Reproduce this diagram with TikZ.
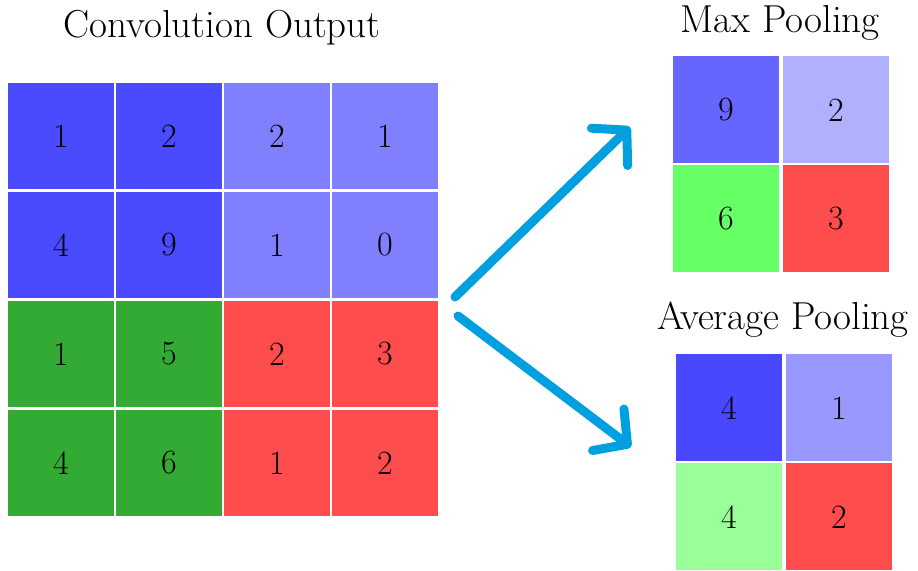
\documentclass[tikz,border=0pt]{standalone}
\usetikzlibrary{arrows.meta}
% cell fills
\definecolor{cdeep}{HTML}{4A4AFF}
\definecolor{clight}{HTML}{8080FF}
\definecolor{cgreen}{HTML}{33AA33}
\definecolor{cred}{HTML}{FF4C4C}
\definecolor{mblue}{HTML}{6666FF}
\definecolor{mlight}{HTML}{B0B0FF}
\definecolor{mgreen}{HTML}{66FF66}
\definecolor{ablue}{HTML}{4848FF}
\definecolor{alight}{HTML}{9898FF}
\definecolor{agreen}{HTML}{99FF99}
\definecolor{arrowc}{HTML}{00A0E0}

\begin{document}
\begin{tikzpicture}[x=0.5pt,y=-0.5pt,
  cell/.style={minimum width=52.75pt, minimum height=53pt, inner sep=0pt,
    font=\fontsize{17}{20}\selectfont},
  small/.style={cell, minimum width=53pt, minimum height=53.5pt},
  title/.style={font=\fontsize{19.5}{23}\selectfont, inner sep=0pt},
  flow/.style={draw=arrowc, line width=4.5pt, line cap=round, line join=round,
    -{Straight Barb[length=12pt, width=26pt, round]}}]
\useasboundingbox (0,0) rectangle (918,571);

% titles
\node[title] (tconv) at (222,28) {Convolution Output};
\node[title] (tmax) at (780,23) {Max Pooling};
\node[title] (tavg) at (783,320) {Average Pooling};

% 4x4 convolution output
\foreach \n/\v/\c/\x/\y in {
  a11/1/cdeep/61/136, a12/2/cdeep/169/136, a13/2/clight/277/136, a14/1/clight/385/136,
  a21/4/cdeep/61/245, a22/9/cdeep/169/245, a23/1/clight/277/245, a24/0/clight/385/245,
  a31/1/cgreen/61/354, a32/5/cgreen/169/354, a33/2/cred/277/354, a34/3/cred/385/354,
  a41/4/cgreen/61/463, a42/6/cgreen/169/463, a43/1/cred/277/463, a44/2/cred/385/463}
  \node[cell, fill=\c] (\n) at (\x,\y) {\v};

% 2x2 max pooling
\foreach \n/\v/\c/\x/\y in {
  m11/9/mblue/726/110, m12/2/mlight/836/110,
  m21/6/mgreen/726/219, m22/3/cred/836/219}
  \node[small, fill=\c] (\n) at (\x,\y) {\v};

% 2x2 average pooling
\foreach \n/\v/\c/\x/\y in {
  p11/4/ablue/729/408, p12/1/alight/839/408,
  p21/4/agreen/729/517, p22/2/cred/839/517}
  \node[small, fill=\c] (\n) at (\x,\y) {\v};

% arrows
\coordinate (s1) at (455,297);
\coordinate (e1) at (630,127);
\coordinate (s2) at (458,316);
\coordinate (e2) at (631,447);
\draw[flow] (s1) -- (e1);
\draw[flow] (s2) -- (e2);
\end{tikzpicture}
\end{document}
